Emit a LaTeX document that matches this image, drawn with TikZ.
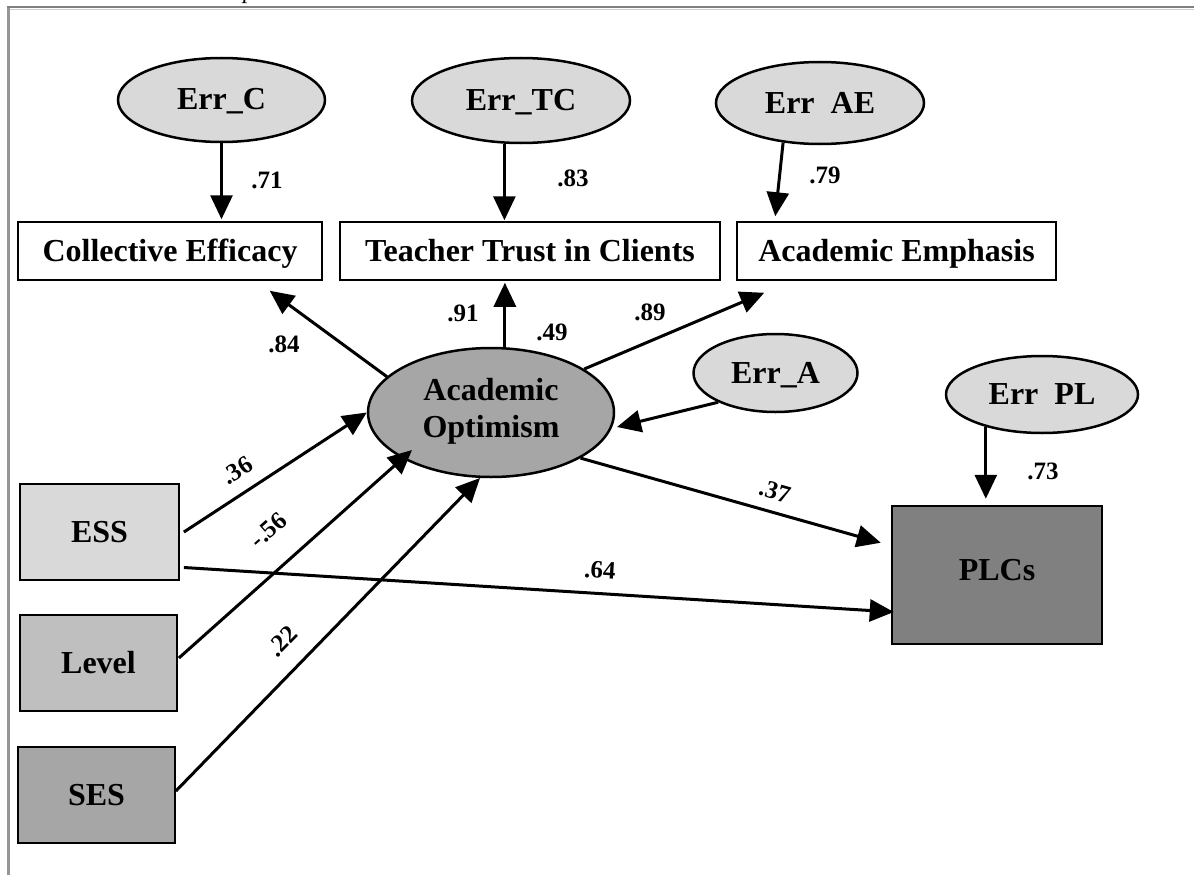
\documentclass[tikz,border=0pt]{standalone}
\usepackage{fontspec}
\setmainfont{Liberation Serif}
\usetikzlibrary{arrows.meta,shapes.geometric,calc}
\definecolor{errgray}{RGB}{217,217,217}
\definecolor{lvlgray}{RGB}{191,191,191}
\definecolor{midgray}{RGB}{166,166,166}
\definecolor{plcgray}{RGB}{128,128,128}
\definecolor{framegray}{RGB}{128,128,128}
\definecolor{frameleft}{RGB}{150,150,150}
\definecolor{framelight}{RGB}{205,205,205}
\begin{document}
\begin{tikzpicture}[x=1pt,y=-1pt,
  every node/.style={font=\fontsize{32}{37}\selectfont\bfseries, inner sep=0pt},
  txt/.style={text height=20pt, text depth=0pt},
  errell/.style={ellipse, draw, line width=2.5pt, fill=errgray, txt},
  obsbox/.style={rectangle, draw, line width=1.5pt, minimum height=58pt, txt},
  exobox/.style={rectangle, draw, line width=1.8pt, minimum height=96pt, txt},
  arr/.style={line width=3pt, -{Triangle[length=24pt,width=22pt]}},
  coef/.style={font=\fontsize{25}{30}\selectfont\bfseries, text height=17pt, text depth=0pt}
]
\useasboundingbox (0,0) rectangle (1194,875);
% frame
\draw[line width=3pt, frameleft] (8.5,875) -- (8.5,7.2);
\draw[line width=2.4pt, framegray] (7,7.2) -- (1194,7.2);
\draw[line width=1.2pt, framelight] (10,9.2) -- (1194,9.2);
\node[font=\fontsize{24}{28}\selectfont\itshape, anchor=base west] (capfrag) at (243,-1.5) {p};

% error terms and indicators
\node[errell, minimum width=207pt, minimum height=84pt] (errc) at (221.5,100) {Err\_C};
\node[errell, minimum width=218pt, minimum height=85pt] (errtc) at (521,100.5) {Err\_TC};
\node[errell, minimum width=208pt, minimum height=82pt] (errae) at (820,103) {Err\hspace{0.5em}AE};
\node[obsbox, minimum width=304pt] (ce) at (170,251) {Collective Efficacy};
\node[obsbox, minimum width=380pt] (tt) at (530,251) {Teacher Trust in Clients};
\node[obsbox, minimum width=319pt] (ae) at (896.5,251) {Academic Emphasis};

\node[ellipse, draw, line width=2.5pt, fill=midgray, minimum width=246pt, minimum height=129pt, align=center, text depth=10pt] (ao) at (491,412.5) {Academic\\Optimism};
\node[errell, minimum width=164pt, minimum height=78pt] (erra) at (775.5,373) {Err\_A};
\node[errell, minimum width=192pt, minimum height=77pt] (errpl) at (1042,394.5) {Err\hspace{0.5em}PL};
\node[rectangle, draw, line width=2.5pt, fill=plcgray, minimum width=210pt, minimum height=138pt, text height=20pt, text depth=10pt] (plc) at (997,575) {PLCs};

\node[exobox, fill=errgray, minimum width=159pt] (ess) at (99.5,532) {ESS};
\node[exobox, fill=lvlgray, minimum width=157pt] (level) at (98.5,663) {Level};
\node[exobox, fill=midgray, minimum width=157pt] (ses) at (96.5,795) {SES};

% connectors
\draw[arr, shorten >=2pt] (errc.south) -- (errc.south |- ce.north);
\draw[arr, shorten >=1pt] (errtc.-111) -- (errtc.-111 |- tt.north);
\draw[arr] (errae.-133) -- ($(ae.north west)+(39,-5)$);
\draw[arr] (ao.161.6) -- ($(ce.south east)+(-53,10)$);
\draw[arr, shorten >=2pt] (ao.78) -- (ao.78 |- tt.south);
\draw[arr] (ao.25.8) -- ($(ae.south west)+(28,12)$);
\draw[arr] (erra.-153.6) -- ($(ao.center)+(126,14.5)$);
\draw[arr] (ao.-27.6) -- ($(plc.north west)+(-10,38)$);
\draw[arr, shorten >=6pt] (errpl.-150) -- (errpl.-150 |- plc.north);
\draw[arr] ($(ess.east)+(4,0)$) -- (ao.west);
\draw[arr] ($(ess.east)+(4,35.5)$) -- ($(plc.west)+(3,37)$);
\draw[arr] ($(level.east)+(1,-5)$) -- ($(ao.center)+(-79,37.5)$);
\draw[arr] ($(ses.east)+(0,-4)$) -- ($(ao.center)+(-11,65.5)$);

% coefficients
\node[coef] (c71) at (267,180) {.71};
\node[coef] (c83) at (573,178) {.83};
\node[coef] (c79) at (825,175) {.79};
\node[coef] (c84) at (284,344) {.84};
\node[coef] (c91) at (463,313) {.91};
\node[coef] (c49) at (552,332) {.49};
\node[coef] (c89) at (650,312) {.89};
\node[coef, rotate=33] (c36) at (237,470) {.36};
\node[coef, rotate=41.6] (c56) at (268,530) {-.56};
\node[coef, rotate=45.6] (c22) at (282,641) {.22};
\node[coef, rotate=-15.8] (c37) at (775,491) {.37};
\node[coef, rotate=-3.6] (c64) at (600,570) {.64};
\node[coef] (c73) at (1043,471) {.73};
\end{tikzpicture}
\end{document}
